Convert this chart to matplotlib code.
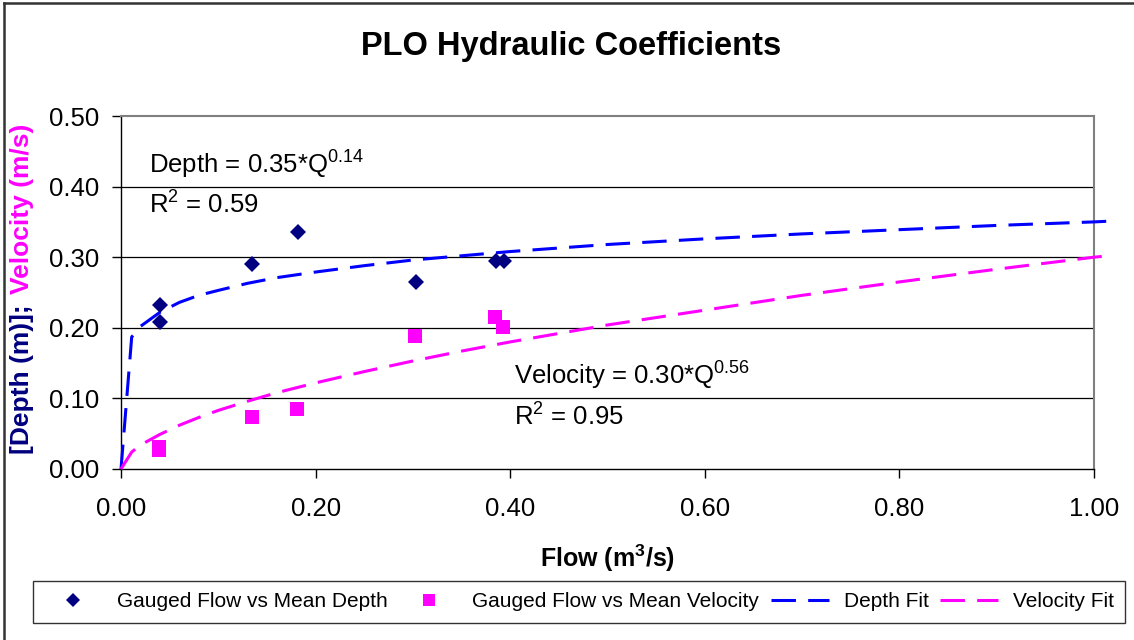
import matplotlib
matplotlib.use("Agg")
import matplotlib.pyplot as plt
from matplotlib.lines import Line2D

plt.rcParams['font.family'] = ['Liberation Sans', 'DejaVu Sans']
plt.rcParams['mathtext.fontset'] = 'custom'
plt.rcParams['mathtext.rm'] = 'Liberation Sans'
plt.rcParams['mathtext.it'] = 'Liberation Sans:italic'
plt.rcParams['mathtext.bf'] = 'Liberation Sans:bold'

# ---- data ----
depth_flow = [0.040, 0.040, 0.135, 0.182, 0.303, 0.385, 0.394]
depth_vals = [0.233, 0.208, 0.291, 0.336, 0.265, 0.295, 0.294]

vel_flow = [0.039, 0.039, 0.135, 0.181, 0.302, 0.384, 0.393]
vel_vals = [0.031, 0.027, 0.073, 0.085, 0.189, 0.215, 0.201]

fit_flow = [0, 0.011, 0.02, 0.04, 0.06, 0.08, 0.10, 0.13, 0.16, 0.20, 0.25,
            0.30, 0.35, 0.40, 0.50, 0.60, 0.70, 0.80, 0.90, 1.00, 1.015]
depth_fit = [0, 0.187, 0.202, 0.222, 0.236, 0.246, 0.253, 0.263, 0.271, 0.279,
             0.288, 0.296, 0.302, 0.308, 0.318, 0.326, 0.333, 0.339, 0.345,
             0.350, 0.351]
vel_fit = [0, 0.024, 0.034, 0.049, 0.062, 0.073, 0.083, 0.096, 0.108, 0.122,
           0.138, 0.153, 0.167, 0.180, 0.204, 0.225, 0.246, 0.265, 0.283,
           0.300, 0.302]

x_ticks = [0.0, 0.2, 0.4, 0.6, 0.8, 1.0]
y_ticks = [0.0, 0.1, 0.2, 0.3, 0.4, 0.5]

NAVY = '#000080'
MAGENTA = '#FF00FF'
BLUE = '#0000FF'

W, H = 1134, 640
fig = plt.figure(figsize=(W / 100, H / 100), dpi=100)
ax = fig.add_axes([121 / W, 1 - 469 / H, (1094 - 121) / W, (469 - 116) / H])

ax.set_xlim(0, 1.0)
ax.set_ylim(0, 0.5)

for y in y_ticks[1:-1]:
    ax.axhline(y, color='black', lw=0.9, zorder=1)

ax.plot(fit_flow, depth_fit, color=BLUE, lw=2.2, dashes=(8, 4),
        clip_on=False, zorder=3, label='Depth Fit')
ax.plot(fit_flow, vel_fit, color=MAGENTA, lw=2.2, dashes=(8, 4),
        clip_on=False, zorder=3, label='Velocity Fit')
ax.plot(depth_flow, depth_vals, linestyle='none', marker='D', ms=8.5,
        mew=0, color=NAVY, zorder=4, label='Gauged Flow vs Mean Depth')
ax.plot(vel_flow, vel_vals, linestyle='none', marker='s', ms=10.5,
        mew=0, color=MAGENTA, zorder=4, label='Gauged Flow vs Mean Velocity')

ax.set_xticks(x_ticks)
ax.set_xticklabels([f"{v:.2f}" for v in x_ticks])
ax.set_yticks(y_ticks)
ax.set_yticklabels([f"{v:.2f}" for v in y_ticks])
ax.tick_params(axis='both', direction='out', length=6.5, width=1,
               labelsize=18.5, colors='black')
ax.tick_params(axis='x', pad=13.5)
ax.tick_params(axis='y', pad=9)

for s in ['left', 'bottom']:
    ax.spines[s].set_color('black')
    ax.spines[s].set_linewidth(1)
for s in ['top', 'right']:
    ax.spines[s].set_color('#808080')
    ax.spines[s].set_linewidth(1.5)

# annotations
ax.text(0.029, 0.418, r"Depth = 0.35*Q$^{0.14}$", fontsize=18.5, va='baseline')
ax.text(0.029, 0.362, r"R$^{2}$ = 0.59", fontsize=18.5, va='baseline')
ax.text(0.4035, 0.119, r"Velocity = 0.30*Q$^{0.56}$", fontsize=18.5,
        va='baseline')
ax.text(0.4035, 0.061, r"R$^{2}$ = 0.95", fontsize=18.5, va='baseline')

# titles
fig.text(0.5035, 1 - 46 / H, "PLO Hydraulic Coefficients", fontsize=23.5,
         fontweight='bold', ha='center', va='center')
fig.text(607.5 / W, 1 - 558 / H, r"Flow (m$^{\mathbf{3}}$/s)", fontsize=18,
         fontweight='bold', ha='center', va='center')

renderer = fig.canvas.get_renderer()
t1 = fig.text(22 / W, 1 - 454 / H, "[Depth (m)];", rotation=90, ha='center',
              va='bottom', fontsize=19, fontweight='bold', color=NAVY)
bb = t1.get_window_extent(renderer)
fig.text(22 / W, (bb.y1 + 10) / H, "Velocity (m/s)", rotation=90,
         ha='center', va='bottom', fontsize=19, fontweight='bold',
         color=MAGENTA)

# legend
handles = [
    Line2D([], [], linestyle='none', marker='D', ms=7, mew=0, color=NAVY),
    Line2D([], [], linestyle='none', marker='s', ms=8, mew=0, color=MAGENTA),
    Line2D([], [], color=BLUE, lw=2.2, dashes=(8, 4)),
    Line2D([], [], color=MAGENTA, lw=2.2, dashes=(8, 4)),
]
labels = ['Gauged Flow vs Mean Depth', 'Gauged Flow vs Mean Velocity',
          'Depth Fit', 'Velocity Fit']
leg = fig.legend(handles, labels, loc='upper left',
                 bbox_to_anchor=(33 / W, 1 - 581 / H), ncol=4, fontsize=15,
                 frameon=True, fancybox=False, borderpad=0.55,
                 handlelength=2.78, handletextpad=0.72, columnspacing=0.55,
                 borderaxespad=0)
leg.get_frame().set_edgecolor('black')
leg.get_frame().set_linewidth(1)

# outer chart border (left and top visible)
fig.add_artist(Line2D([3.5 / W, 3.5 / W], [0, 1 - 2.5 / H], color='#333333',
                      lw=1.8, transform=fig.transFigure))
fig.add_artist(Line2D([3.5 / W, 1], [1 - 2.5 / H, 1 - 2.5 / H],
                      color='#333333', lw=1.8, transform=fig.transFigure))

fig.savefig('out.png', dpi=100)
